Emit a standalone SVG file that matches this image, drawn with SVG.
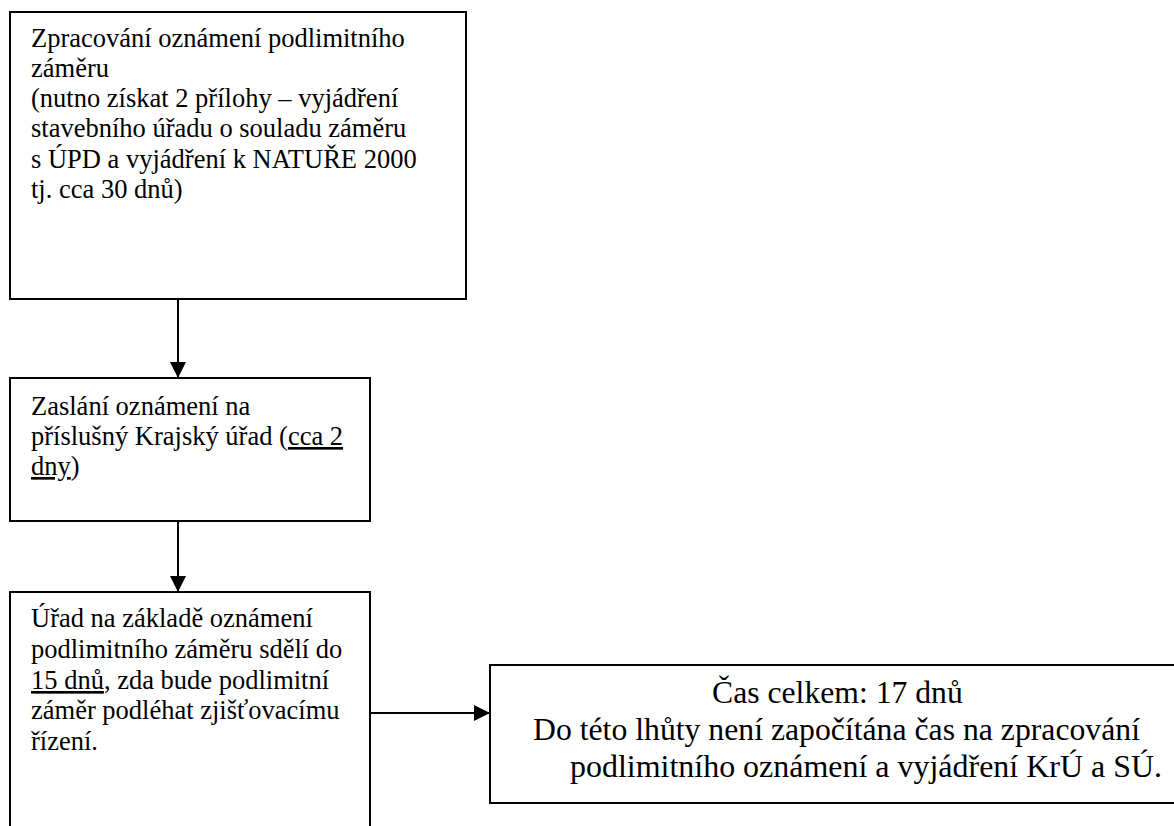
<svg xmlns="http://www.w3.org/2000/svg" width="1174" height="826" viewBox="0 0 1174 826">
<style>
.box{fill:#fff;stroke:#000;stroke-width:2}
.t{font-family:"Liberation Serif","Times New Roman",serif;font-size:26.5px;fill:#000}
.t4{font-family:"Liberation Serif","Times New Roman",serif;font-size:31.7px;fill:#000}
.c{stroke:#000;stroke-width:2;fill:none}
.u{text-decoration:underline}
</style>
<defs>
<marker id="ah" markerWidth="16" markerHeight="16" refX="16" refY="8" orient="auto" markerUnits="userSpaceOnUse">
<path d="M0,0 L16,8 L0,16 Z" fill="#000"/>
</marker>
</defs>
<rect width="1174" height="826" fill="#fff"/>
<g id="connectors">
<line class="c" x1="178" y1="299" x2="178" y2="378" marker-end="url(#ah)"/>
<line class="c" x1="178" y1="521" x2="178" y2="592" marker-end="url(#ah)"/>
<line class="c" x1="370" y1="713" x2="490" y2="713" marker-end="url(#ah)"/>
</g>
<g id="node1">
<rect class="box" x="10" y="12" width="456" height="287"/>
<text class="t" x="31" y="47">Zpracování oznámení podlimitního</text>
<text class="t" x="31" y="77">záměru</text>
<text class="t" x="31" y="107">(nutno získat 2 přílohy – vyjádření</text>
<text class="t" x="31" y="137">stavebního úřadu o souladu záměru</text>
<text class="t" x="31" y="168">s ÚPD a vyjádření k NATUŘE 2000</text>
<text class="t" x="31" y="198">tj. cca 30 dnů)</text>
</g>
<g id="node2">
<rect class="box" x="10" y="378" width="360" height="143"/>
<text class="t" x="31" y="415">Zaslání oznámení na</text>
<text class="t" x="31" y="445">příslušný Krajský úřad (<tspan class="u">cca 2</tspan></text>
<text class="t" x="31" y="475"><tspan class="u">dny</tspan>)</text>
</g>
<g id="node3">
<rect class="box" x="10" y="592" width="360" height="260"/>
<text class="t" x="31" y="627">Úřad na základě oznámení</text>
<text class="t" x="31" y="658">podlimitního záměru sdělí do</text>
<text class="t" x="31" y="689"><tspan class="u">15 dnů</tspan>, zda bude podlimitní</text>
<text class="t" x="31" y="719">záměr podléhat zjišťovacímu</text>
<text class="t" x="31" y="750">řízení.</text>
</g>
<g id="node4">
<rect class="box" x="490" y="665" width="700" height="138"/>
<text class="t4" x="712" y="703">Čas celkem: 17 dnů</text>
<text class="t4" x="533" y="740" textLength="607" lengthAdjust="spacingAndGlyphs">Do této lhůty není započítána čas na zpracování</text>
<text class="t4" x="570" y="777" textLength="592" lengthAdjust="spacingAndGlyphs">podlimitního oznámení a vyjádření KrÚ a SÚ.</text>
</g>
</svg>
